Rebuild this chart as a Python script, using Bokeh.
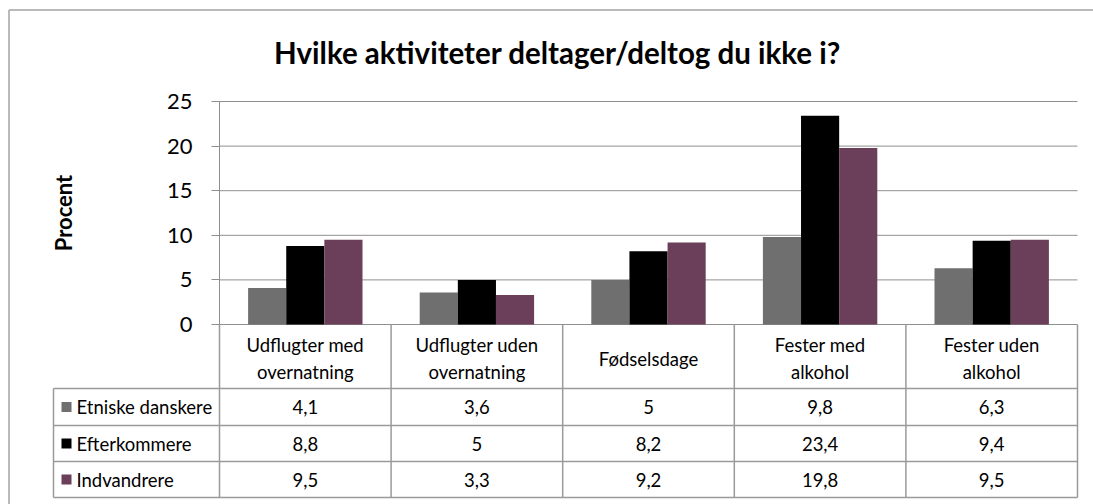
import numpy as np
from bokeh.plotting import figure
from bokeh.models import Range1d, LinearAxis, FixedTicker, Label
from bokeh.core.properties import value
from bokeh.embed import file_html
from bokeh.resources import INLINE

# ---------------- data ----------------
categories = ["Udflugter med\novernatning", "Udflugter uden\novernatning", "Fødselsdage",
              "Fester med\nalkohol", "Fester uden\nalkohol"]
series_names = ["Etniske danskere", "Efterkommere", "Indvandrere"]
etniske_danskere = [4.1, 3.6, 5, 9.8, 6.3]
efterkommere = [8.8, 5, 8.2, 23.4, 9.4]
indvandrere = [9.5, 3.3, 9.2, 19.8, 9.5]
y_ticks = [0, 5, 10, 15, 20, 25]
title_text = "Hvilke aktiviteter deltager/deltog du ikke i?"
y_label = "Procent"

# ---------------- styles / layout ----------------
colors = ["#6f6f6f", "#000000", "#6b3f59"]
FONT = "Lato"
GRID = "#8f8f8f"
TABLE = "#9a9a9a"
BORDER = "#a3a3a3"

W, H = 1093, 504
ORIGIN = 0                      # canvas sits at page origin
PLOT_L, PLOT_R = 219, 1077      # page px of category area
ZERO_Y, TOP_Y = 324, 101        # page px of value 0 and value 25
n = len(categories)
px_per_cat = (PLOT_R - PLOT_L) / n
px_per_unit = (ZERO_Y - TOP_Y) / (y_ticks[-1] - y_ticks[0])


def dx(px):
    return (px - PLOT_L) / px_per_cat - 0.5


def dy(py):
    return (ZERO_Y - py) / px_per_unit


p = figure(width=W, height=H, tools="",
           x_range=Range1d(dx(ORIGIN), dx(ORIGIN + W)),
           y_range=Range1d(dy(ORIGIN + H), dy(ORIGIN)),
           x_axis_type=None, y_axis_type=None, min_border=0,
           toolbar_location=None, output_backend="svg",
           outline_line_color=None, background_fill_color="white",
           border_fill_color="white")
p.toolbar.logo = None

# y axis placed at the left edge of the category area
yaxis = LinearAxis(fixed_location=-0.5, bounds=(y_ticks[0], y_ticks[-1]),
                   ticker=FixedTicker(ticks=y_ticks),
                   axis_label=y_label,
                   axis_label_text_font=FONT, axis_label_text_font_size="22px",
                   axis_label_text_font_style="bold", axis_label_text_color="black",
                   axis_label_standoff=87,
                   major_label_text_font=FONT, major_label_text_font_size="22px",
                   major_label_text_color="black", major_label_standoff=19,
                   axis_line_color=GRID, axis_line_width=1,
                   major_tick_line_color=GRID, major_tick_out=8, major_tick_in=0,
                   minor_tick_line_color=None)
p.add_layout(yaxis, "left")

xs = np.arange(n)

# gridlines (incl. zero line)
p.segment(x0=-0.5, x1=n - 0.5, y0=y_ticks, y1=y_ticks, line_color=GRID, line_width=1)

# bars
bw = 1 / 4.5
series = [etniske_danskere, efterkommere, indvandrere]
offsets = [-bw, 0, bw]
for vals, c, off in zip(series, colors, offsets):
    p.vbar(x=xs + off, top=vals, bottom=0, width=bw, fill_color=c, line_color=None)

# ---------------- data table ----------------
row_edges_px = [388, 425, 461, 497]
leg_left = dx(53)
bottom = dy(row_edges_px[-1])
hy = [dy(v) for v in row_edges_px]
p.segment(x0=leg_left, x1=n - 0.5, y0=hy, y1=hy, line_color=TABLE, line_width=1.5)
vb = list(np.arange(n + 1) - 0.5)
p.segment(x0=vb, x1=vb, y0=0, y1=bottom, line_color=TABLE, line_width=1.5)
p.segment(x0=[leg_left], x1=[leg_left], y0=[dy(row_edges_px[0])], y1=[bottom],
          line_color=TABLE, line_width=1.5)

# category labels
p.text(x=xs, y=dy(358), text=categories, text_align="center", text_baseline="middle",
       text_font=value(FONT), text_font_size="18.5px", text_color="black",
       text_line_height=1.22)

# rows
row_centers = [dy((a + b) / 2) for a, b in zip(row_edges_px[:-1], row_edges_px[1:])]


def fmt(v):
    return f"{v:g}".replace(".", ",")


for vals, yc in zip(series, row_centers):
    p.text(x=xs, y=yc, text=[fmt(v) for v in vals], text_align="center",
           text_baseline="middle", text_font=value(FONT), text_font_size="18.5px",
           text_color="black")

p.scatter(x=dx(66), y=row_centers, marker="square", size=10, fill_color=colors,
          line_color=None)
p.text(x=dx(76), y=row_centers, text=series_names, text_align="left",
       text_baseline="middle", text_font=value(FONT), text_font_size="18.5px",
       text_color="black")

# title
p.add_layout(Label(x=dx(557), y=dy(52), text=title_text, text_align="center",
                   text_baseline="middle", text_font=FONT, text_font_size="29.5px",
                   text_font_style="bold", text_color="black"))

# outer chart border (only top and left fall inside the window)
p.segment(x0=[dx(8.5)], x1=[dx(8.5)], y0=[dy(H + 20)], y1=[dy(9.5)],
          line_color=BORDER, line_width=1.5)
p.segment(x0=[dx(8.5)], x1=[dx(W + 20)], y0=[dy(9.5)], y1=[dy(9.5)],
          line_color=BORDER, line_width=1.5)

open("out.html", "w").write(file_html(p, INLINE))
